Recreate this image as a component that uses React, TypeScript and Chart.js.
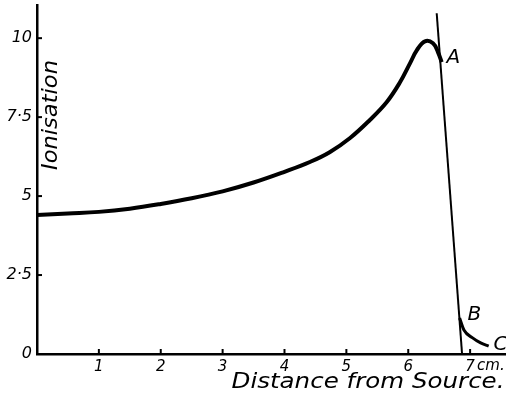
import React, { useEffect, useRef } from 'react';
import { Chart, registerables } from 'chart.js';

Chart.register(...registerables);

// Main ionisation curve (distance in cm, ionisation)
const curveX = [0, 0.5, 1, 1.5, 2, 2.5, 3, 3.5, 4, 4.41, 4.73, 5.06, 5.38, 5.65, 5.86, 6.03, 6.14, 6.27, 6.4, 6.48, 6.54];
const curveY = [4.4, 4.45, 4.5, 4.6, 4.75, 4.93, 5.15, 5.43, 5.77, 6.08, 6.39, 6.84, 7.41, 7.97, 8.58, 9.21, 9.62, 9.9, 9.84, 9.56, 9.24];

// Steep straight fall
const steepX = [6.46, 6.87];
const steepY = [10.79, 0];

// Tail B -> C
const tailX = [6.83, 6.9, 7.04, 7.17, 7.3];
const tailY = [1.14, 0.76, 0.51, 0.35, 0.25];

// Point labels
const annText = ['A', 'B', 'C'];
const annX = [6.73, 7.07, 7.49];
const annY = [9.37, 1.23, 0.28];

// Ticks
const xTickValues = [1, 2, 3, 4, 5, 6, 7];
const xTickLabels = ['1', '2', '3', '4', '5', '6', '7'];
const xUnit = 'cm.';
const yTickValues = [0, 2.5, 5, 7.5, 10];
const yTickLabels = ['0', '2·5', '5', '7·5', '10'];

const xTitle = 'Distance from Source.';
const yTitle = 'Ionisation';

const FONT = '"DejaVu Sans", sans-serif';

export default function App() {
  const ref = useRef<HTMLCanvasElement>(null);

  useEffect(() => {
    document.body.style.margin = '0';
    const canvas = ref.current!;
    const pts = (xs: number[], ys: number[]) => xs.map((x, i) => ({ x, y: ys[i] }));

    const overlay = {
      id: 'overlay',
      afterDraw(chart: any) {
        const { ctx, chartArea } = chart;
        const xs = chart.scales.x;
        const ys = chart.scales.y;
        ctx.save();
        ctx.strokeStyle = '#000';
        ctx.fillStyle = '#000';
        ctx.lineWidth = 2;
        // inner tick marks
        xTickValues.forEach((v) => {
          const px = xs.getPixelForValue(v);
          ctx.beginPath();
          ctx.moveTo(px, chartArea.bottom);
          ctx.lineTo(px, chartArea.bottom - 5);
          ctx.stroke();
        });
        yTickValues.filter((v) => v > 0).forEach((v) => {
          const py = ys.getPixelForValue(v);
          ctx.beginPath();
          ctx.moveTo(chartArea.left, py);
          ctx.lineTo(chartArea.left + 5, py);
          ctx.stroke();
        });
        // unit
        ctx.font = 'italic 15px ' + FONT;
        ctx.textBaseline = 'top';
        ctx.textAlign = 'left';
        ctx.fillText(xUnit, xs.getPixelForValue(7) + 7, chartArea.bottom + 5);
        // point annotations
        ctx.font = 'italic 20px ' + FONT;
        ctx.textAlign = 'center';
        ctx.textBaseline = 'middle';
        annText.forEach((t, i) => {
          ctx.fillText(t, xs.getPixelForValue(annX[i]), ys.getPixelForValue(annY[i]));
        });
        // x title
        ctx.font = 'italic 22px ' + FONT;
        const wX = ctx.measureText(xTitle).width;
        ctx.save();
        ctx.translate(chartArea.left + 331, chartArea.bottom + 28);
        ctx.scale(273 / wX, 1);
        ctx.fillText(xTitle, 0, 0);
        ctx.restore();
        // y title
        ctx.font = 'italic 21px ' + FONT;
        const wY = ctx.measureText(yTitle).width;
        ctx.save();
        ctx.translate(chartArea.left + 15, chartArea.top + 110);
        ctx.rotate(-Math.PI / 2);
        ctx.scale(110 / wY, 1);
        ctx.fillText(yTitle, 0, 0);
        ctx.restore();
        ctx.restore();
      },
    };

    const chart = new Chart(canvas, {
      type: 'line',
      data: {
        datasets: [
          {
            data: pts(curveX, curveY),
            borderColor: '#000',
            borderWidth: 4,
            pointRadius: 0,
            tension: 0.4,
            fill: false,
          },
          {
            data: pts(steepX, steepY),
            borderColor: '#000',
            borderWidth: 2,
            pointRadius: 0,
            tension: 0,
            fill: false,
          },
          {
            data: pts(tailX, tailY),
            borderColor: '#000',
            borderWidth: 3,
            pointRadius: 0,
            cubicInterpolationMode: 'monotone',
            fill: false,
          },
        ],
      },
      options: {
        animation: false,
        responsive: true,
        maintainAspectRatio: false,
        layout: { padding: { top: 5, right: 0, left: 0, bottom: 0 } },
        plugins: { legend: { display: false }, tooltip: { enabled: false } },
        scales: {
          x: {
            type: 'linear',
            min: 0,
            max: 7.58,
            grid: { display: false, drawTicks: false },
            border: { display: true, color: '#000', width: 2.5 },
            afterBuildTicks: (s: any) => {
              s.ticks = xTickValues.map((v) => ({ value: v }));
            },
            afterFit: (s: any) => {
              s.height = 40;
              s.paddingLeft = 0;
              s.paddingRight = 0;
            },
            ticks: {
              color: '#000',
              padding: 4,
              maxRotation: 0,
              autoSkip: false,
              font: { family: FONT, size: 15, style: 'italic' },
              callback: (v: any) => {
                const i = xTickValues.indexOf(Number(v));
                return i >= 0 ? xTickLabels[i] : '';
              },
            },
          },
          y: {
            type: 'linear',
            min: 0,
            max: 11.05,
            grid: { display: false, drawTicks: false },
            border: { display: true, color: '#000', width: 2.5 },
            afterBuildTicks: (s: any) => {
              s.ticks = yTickValues.map((v) => ({ value: v }));
            },
            afterFit: (s: any) => {
              s.width = 37;
              s.paddingTop = 0;
              s.paddingBottom = 0;
            },
            ticks: {
              color: '#000',
              padding: 5,
              autoSkip: false,
              font: { family: FONT, size: 16, style: 'italic' },
              callback: (v: any) => {
                const i = yTickValues.indexOf(Number(v));
                return i >= 0 ? yTickLabels[i] : '';
              },
            },
          },
        },
      },
      plugins: [overlay],
    } as any);

    return () => chart.destroy();
  }, []);

  return (
    <div style={{ position: 'absolute', left: 0, top: 0, width: 506, height: 394, background: '#fff' }}>
      <canvas ref={ref} />
    </div>
  );
}
